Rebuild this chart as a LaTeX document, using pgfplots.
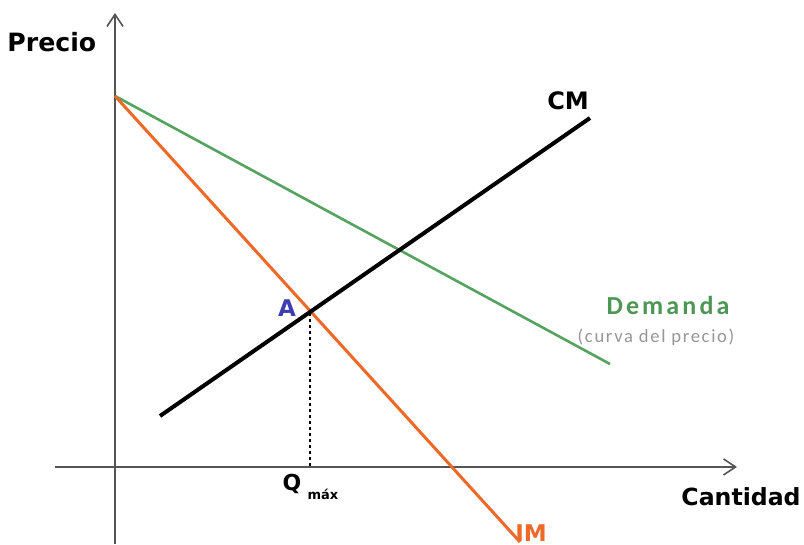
\documentclass[border=0pt]{standalone}
\usepackage{pgfplots}
\pgfplotsset{compat=1.18}
\usepackage{fontspec}
\setmainfont{Carlito}
\newfontfamily\dvb{DejaVu Sans}[BoldFont={DejaVu Sans Bold}]
\newfontfamily\carl{Carlito}
\newfontfamily\carlsp{Carlito}[LetterSpace=12]
\newfontfamily\carlspb{Carlito}[LetterSpace=9]
\usetikzlibrary{arrows.meta}
\definecolor{dem}{RGB}{84,164,96}
\definecolor{demtxt}{RGB}{78,150,84}
\definecolor{im}{RGB}{238,104,40}
\definecolor{ablue}{RGB}{62,62,178}
\definecolor{axgray}{RGB}{85,85,85}
\definecolor{subgray}{RGB}{150,150,150}
\begin{document}
\begin{tikzpicture}
\begin{axis}[
  hide axis, scale only axis,
  width=402pt, height=272pt,
  xmin=0, xmax=804, ymin=-544, ymax=0,
  clip=false
]
\path (axis cs:0,0) rectangle (axis cs:804,-544);
% axes
\addplot[axgray, line width=0.8pt, -{Straight Barb[length=6pt,width=8pt,line width=0.8pt]}] coordinates {(115,-544) (115,-13)};
\addplot[axgray, line width=0.8pt, -{Straight Barb[length=6pt,width=8pt,line width=0.8pt]}] coordinates {(55,-467) (737,-467)};
% demand
\addplot[dem, line width=1.3pt] coordinates {(115,-96) (610,-364)};
% IM
\addplot[im, line width=1.5pt] coordinates {(115,-96) (520,-542)};
% CM
\addplot[black, line width=2pt] coordinates {(160,-416) (590,-118)};
% dashed
\addplot[black, line width=0.6pt, dashed, dash pattern=on 1.5pt off 1.5pt] coordinates {(310,-313) (310,-467)};
% labels
\node[anchor=west, inner sep=0pt] at (axis cs:7,-42) {\dvb\bfseries\fontsize{12.6}{14}\selectfont Precio};
\node[anchor=east, inner sep=0pt] at (axis cs:801,-497) {\dvb\bfseries\fontsize{11.8}{14}\selectfont Cantidad};
\node[anchor=center, inner sep=0pt] at (axis cs:568,-101) {\dvb\bfseries\fontsize{12}{14}\selectfont CM};
\node[anchor=center, inner sep=0pt] at (axis cs:668,-305) {\carlsp\bfseries\fontsize{13}{15}\selectfont\color{demtxt} Demanda};
\node[anchor=center, inner sep=0pt] at (axis cs:656,-337) {\carlspb\fontsize{9.3}{11}\selectfont\color{subgray} (curva del precio)};
\node[anchor=center, inner sep=0pt] at (axis cs:287,-308) {\dvb\bfseries\fontsize{11.5}{13}\selectfont\color{ablue} A};
\node[anchor=center, inner sep=0pt] at (axis cs:292,-484) {\dvb\bfseries\fontsize{11}{13}\selectfont Q};
\node[anchor=center, inner sep=0pt] at (axis cs:323,-494) {\dvb\bfseries\fontsize{6.5}{8}\selectfont máx};
\node[anchor=center, inner sep=0pt] at (axis cs:531,-533) {\dvb\bfseries\fontsize{11.5}{13}\selectfont\color{im} IM};
\end{axis}
\end{tikzpicture}
\end{document}
